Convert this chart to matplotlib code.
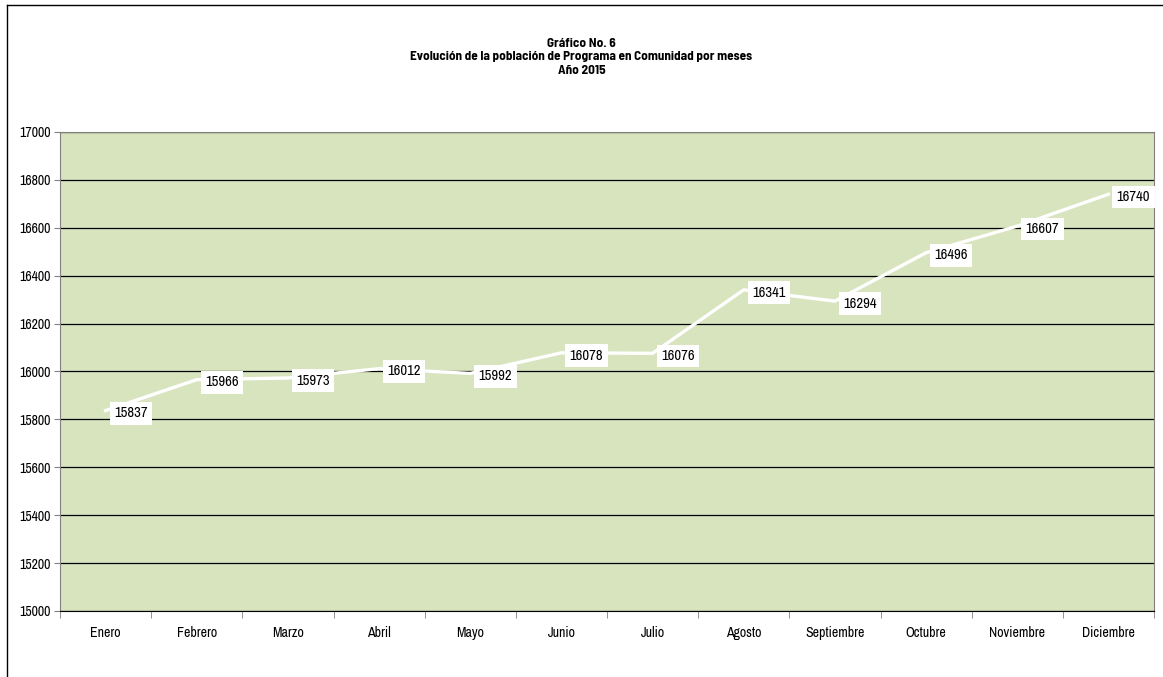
import matplotlib.pyplot as plt
from matplotlib import font_manager as fm
from matplotlib.lines import Line2D
import numpy as np

# datos del grafico
meses = ['Enero', 'Febrero', 'Marzo', 'Abril', 'Mayo', 'Junio', 'Julio',
         'Agosto', 'Septiembre', 'Octubre', 'Noviembre', 'Diciembre']
poblacion = [15837, 15966, 15973, 16012, 15992, 16078, 16076,
             16341, 16294, 16496, 16607, 16740]
yticks = np.arange(15000, 17001, 200)

# fuente estrecha parecida a Arial Narrow
instaladas = set(f.name for f in fm.fontManager.ttflist)
fuente = 'DejaVu Sans'
for nombre in ['Liberation Sans Narrow', 'Archivo Narrow']:
    if nombre in instaladas:
        fuente = nombre
        break
fuente_titulo = fuente
for nombre in ['Liberation Sans Narrow', 'Barlow Semi Condensed', 'Barlow Condensed']:
    if nombre in instaladas:
        fuente_titulo = nombre
        break
plt.rcParams['font.family'] = [fuente, 'DejaVu Sans']
plt.rcParams['font.stretch'] = 'condensed'

fig = plt.figure(figsize=(11.63, 6.77), dpi=100)
ax = fig.add_axes([60 / 1163, 1 - 611 / 677, 1094 / 1163, 479 / 677])

x = np.arange(len(meses))
ax.set_facecolor('#d7e4bd')
ax.plot(x, poblacion, color='white', lw=2.4, zorder=3)

for xi, v in zip(x, poblacion):
    ax.annotate(str(v), (xi, v), xytext=(6, -2), textcoords='offset points',
                ha='left', va='center', fontsize=10.5, zorder=4,
                bbox=dict(boxstyle='square,pad=0.3', fc='white', ec='none'))

ax.set_xlim(-0.5, len(meses) - 0.5)
ax.set_ylim(15000, 17000)
ax.set_yticks(yticks)
ax.set_yticklabels([str(t) for t in yticks], fontsize=10)
ax.yaxis.grid(True, color='black', lw=0.9)
ax.set_axisbelow(True)

ax.set_xticks(x)
ax.set_xticklabels(meses, fontsize=10)
ax.set_xticks(np.arange(-0.5, len(meses)), minor=True)
ax.tick_params(axis='x', which='major', length=0, pad=11)
ax.tick_params(axis='x', which='minor', length=5, color='#808080')
ax.tick_params(axis='y', length=4, color='#808080', pad=3)

for lado in ['left', 'right', 'top']:
    ax.spines[lado].set_color('#808080')
ax.spines['bottom'].set_color('black')

fig.text(0.5, 1 - 57 / 677, 'Gráfico No. 6\nEvolución de la población de Programa en Comunidad por meses\nAño 2015',
         ha='center', va='center', fontsize=9.5, fontweight='bold', linespacing=1.3,
         family=[fuente_titulo, 'DejaVu Sans'])

# marco exterior
fig.add_artist(Line2D([7 / 1163, 1], [1 - 5 / 677, 1 - 5 / 677], color='black', lw=1))
fig.add_artist(Line2D([7 / 1163, 7 / 1163], [0, 1 - 5 / 677], color='black', lw=1))

fig.savefig('out.png', dpi=100)
